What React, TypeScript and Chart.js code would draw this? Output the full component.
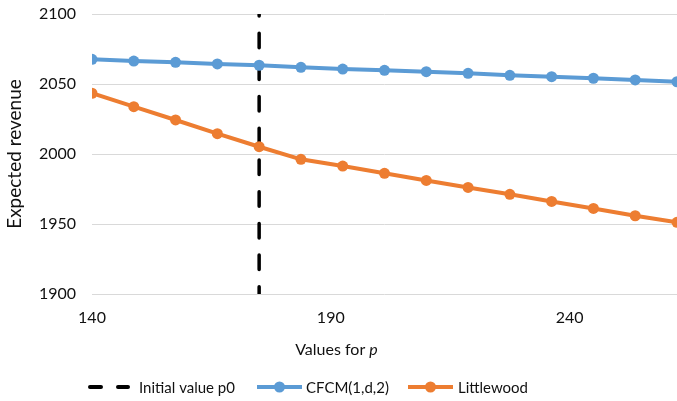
import React, { useEffect, useRef } from 'react';
import { Chart, registerables } from 'chart.js';

Chart.register(...registerables);

// ---- data ----
const P_VALUES = [140, 148.75, 157.5, 166.25, 175, 183.75, 192.5, 201.25, 210, 218.75, 227.5, 236.25, 245, 253.75, 262.5];
const CFCM = [2067.6, 2066.4, 2065.5, 2064.3, 2063.4, 2061.9, 2060.7, 2059.8, 2058.8, 2057.6, 2056.2, 2055.2, 2054.1, 2052.9, 2051.6];
const LITTLEWOOD = [2043.4, 2033.8, 2024.3, 2014.5, 2005.2, 1996.2, 1991.4, 1986.2, 1981.1, 1976.1, 1971.2, 1966.1, 1961.1, 1955.9, 1951.2];
const P0 = 175;
const X_TICKS = [140, 190, 240];
const Y_TICKS = [1900, 1950, 2000, 2050, 2100];
const SERIES_NAMES = ['Initial value p0', 'CFCM(1,d,2)', 'Littlewood'];
const X_TITLE = 'Values for ';
const X_TITLE_VAR = 'p';
const Y_TITLE = 'Expected revenue';

// ---- styles ----
const BLUE = '#5b9bd5';
const ORANGE = '#ed7d31';
const BLACK = '#000000';
const TEXT = '#111111';
const GRID = '#d9d9d9';
const FONT = 'Lato';

const overlayPlugin = {
  id: 'overlay',
  afterDraw(chart: any) {
    const ctx: CanvasRenderingContext2D = chart.ctx;
    ctx.save();
    // x-axis title with italic variable
    ctx.fillStyle = TEXT;
    ctx.textBaseline = 'alphabetic';
    ctx.textAlign = 'left';
    const f1 = `16px ${FONT}`;
    const f2 = `italic 16px ${FONT}`;
    ctx.font = f1;
    const w1 = ctx.measureText(X_TITLE).width;
    ctx.font = f2;
    const w2 = ctx.measureText(X_TITLE_VAR).width;
    const tx = 336.5 - (w1 + w2) / 2;
    ctx.font = f1;
    ctx.fillText(X_TITLE, tx, 355);
    ctx.font = f2;
    ctx.fillText(X_TITLE_VAR, tx + w1, 355);

    // legend
    const ly = 387;
    ctx.lineCap = 'round';
    ctx.strokeStyle = BLACK;
    ctx.lineWidth = 4;
    ctx.beginPath();
    ctx.moveTo(90, ly); ctx.lineTo(101, ly);
    ctx.moveTo(118, ly); ctx.lineTo(128, ly);
    ctx.stroke();
    const samples = [
      { x0: 257, x1: 302, color: BLUE },
      { x0: 408, x1: 453, color: ORANGE },
    ];
    ctx.lineCap = 'butt';
    samples.forEach((s) => {
      ctx.strokeStyle = s.color;
      ctx.fillStyle = s.color;
      ctx.lineWidth = 4;
      ctx.beginPath();
      ctx.moveTo(s.x0, ly); ctx.lineTo(s.x1, ly);
      ctx.stroke();
      ctx.beginPath();
      ctx.arc((s.x0 + s.x1) / 2, ly, 5.5, 0, Math.PI * 2);
      ctx.fill();
    });
    ctx.fillStyle = TEXT;
    ctx.font = `15px ${FONT}`;
    const textX = [139, 306, 458];
    SERIES_NAMES.forEach((name, i) => ctx.fillText(name, textX[i], 392.5));
    ctx.restore();
  },
};

export default function App() {
  const ref = useRef<HTMLCanvasElement | null>(null);
  useEffect(() => {
    if (!ref.current) return;
    const yMin = Y_TICKS[0];
    const yMax = Y_TICKS[Y_TICKS.length - 1];
    const chart = new Chart(ref.current, {
      type: 'line',
      data: {
        datasets: [
          {
            label: SERIES_NAMES[0],
            data: [{ x: P0, y: yMax }, { x: P0, y: yMin }],
            borderColor: BLACK,
            borderWidth: 3.5,
            borderDash: [14.5, 17.2],
            borderDashOffset: 12.5,
            borderCapStyle: 'round',
            pointRadius: 0,
            order: 3,
          },
          {
            label: SERIES_NAMES[1],
            data: P_VALUES.map((x, i) => ({ x, y: CFCM[i] })),
            borderColor: BLUE,
            backgroundColor: BLUE,
            borderWidth: 4,
            pointRadius: 5.5,
            pointBorderWidth: 0,
            pointBackgroundColor: BLUE,
            order: 2,
          },
          {
            label: SERIES_NAMES[2],
            data: P_VALUES.map((x, i) => ({ x, y: LITTLEWOOD[i] })),
            borderColor: ORANGE,
            backgroundColor: ORANGE,
            borderWidth: 4,
            pointRadius: 5.5,
            pointBorderWidth: 0,
            pointBackgroundColor: ORANGE,
            order: 1,
          },
        ] as any,
      },
      options: {
        responsive: false,
        animation: false,
        layout: { autoPadding: false, padding: { top: 14, right: 0, bottom: 40, left: 0 } },
        plugins: {
          legend: { display: false },
          tooltip: { enabled: false },
        },
        scales: {
          x: {
            type: 'linear',
            min: P_VALUES[0],
            max: P_VALUES[P_VALUES.length - 1],
            grid: { display: false, drawTicks: false },
            border: { display: false },
            afterBuildTicks: (scale: any) => {
              scale.ticks = X_TICKS.map((v) => ({ value: v }));
            },
            afterFit: (scale: any) => {
              scale.height = 67;
              scale.paddingLeft = 0;
              scale.paddingRight = 0;
            },
            ticks: {
              padding: 14,
              color: TEXT,
              font: { family: FONT, size: 16 },
              maxRotation: 0,
              callback: (v: any) => String(v),
            },
          },
          y: {
            min: yMin,
            max: yMax,
            grid: { color: GRID, lineWidth: 1, drawTicks: false },
            border: { display: false },
            afterBuildTicks: (scale: any) => {
              scale.ticks = Y_TICKS.map((v) => ({ value: v }));
            },
            afterFit: (scale: any) => {
              scale.width = 92;
              scale.paddingTop = 0;
              scale.paddingBottom = 0;
            },
            ticks: {
              padding: 16,
              color: TEXT,
              font: { family: FONT, size: 16 },
              callback: (v: any) => String(v),
            },
            title: {
              display: true,
              text: Y_TITLE,
              color: TEXT,
              font: { family: FONT, size: 19 },
              padding: { top: 3, bottom: 0 },
            },
          },
        },
      },
      plugins: [overlayPlugin],
    });
    return () => chart.destroy();
  }, []);
  return (
    <div style={{ position: 'absolute', left: 0, top: 0, width: 677, height: 401, background: '#fff' }}>
      <canvas ref={ref} width={677} height={401} style={{ display: 'block', width: 677, height: 401 }} />
    </div>
  );
}
